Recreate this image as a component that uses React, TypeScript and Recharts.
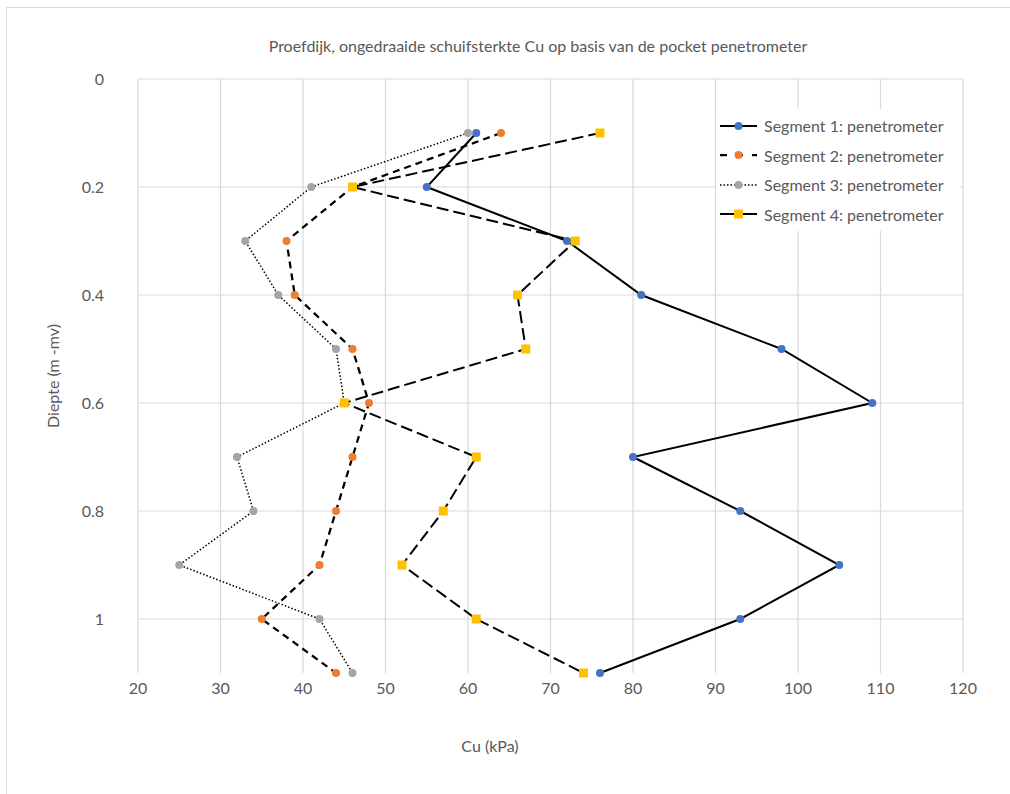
import { LineChart, Line, XAxis, YAxis, CartesianGrid } from 'recharts'

const depths = [0.1, 0.2, 0.3, 0.4, 0.5, 0.6, 0.7, 0.8, 0.9, 1.0, 1.1]
const seg1 = [61, 55, 72, 81, 98, 109, 80, 93, 105, 93, 76]
const seg2 = [64, 46, 38, 39, 46, 48, 46, 44, 42, 35, 44]
const seg3 = [60, 41, 33, 37, 44, 45, 32, 34, 25, 42, 46]
const seg4 = [76, 46, 73, 66, 67, 45, 61, 57, 52, 61, 74]

const xTicks = [20, 30, 40, 50, 60, 70, 80, 90, 100, 110, 120]
const yTicks = [0, 0.2, 0.4, 0.6, 0.8, 1]

const seriesNames = [
  'Segment 1: penetrometer',
  'Segment 2: penetrometer',
  'Segment 3: penetrometer',
  'Segment 4: penetrometer',
]

const FONT = 'Lato, "Open Sans", sans-serif'
const TXT = '#595959'
const FS = 16

const data = depths.map((d, i) => ({ d, s1: seg1[i], s2: seg2[i], s3: seg3[i], s4: seg4[i] }))

const styles = [
  { key: 's1', color: '#4472c4', dash: undefined, width: 2, square: false, sample: undefined },
  { key: 's2', color: '#ed7d31', dash: '7 5', width: 2.25, square: false, sample: '7 9' },
  { key: 's3', color: '#a5a5a5', dash: '1.5 2', width: 1.5, square: false, sample: '1.5 2' },
  { key: 's4', color: '#ffc000', dash: '12 5', width: 2, square: true, sample: undefined },
]

function Dot(props: any) {
  const { cx, cy, color, square } = props
  if (cx == null || cy == null) return null
  if (square) return <rect x={cx - 4.5} y={cy - 4.5} width={9} height={9} fill={color} />
  return <circle cx={cx} cy={cy} r={4} fill={color} />
}

function LegendBox() {
  return (
    <div style={{ background: '#fff', width: 244, padding: '2px 0', fontFamily: FONT, fontSize: FS, color: TXT }}>
      {styles.map((s, i) => (
        <div key={s.key} style={{ display: 'flex', alignItems: 'center', height: 29.5 }}>
          <svg width={46} height={12} style={{ marginRight: 2 }}>
            <line x1={4} x2={41} y1={6} y2={6} stroke="#000" strokeWidth={s.width} strokeDasharray={s.sample} />
            {s.square
              ? <rect x={18} y={1.5} width={9} height={9} fill={s.color} />
              : <circle cx={22.5} cy={6} r={4} fill={s.color} />}
          </svg>
          <span>{seriesNames[i]}</span>
        </div>
      ))}
    </div>
  )
}

export default function App() {
  return (
    <div style={{ position: 'absolute', left: 0, top: 0, width: 1010, height: 794, background: '#fff', overflow: 'hidden' }}>
      <div style={{ position: 'absolute', left: 6, top: 7, width: 1100, height: 900, border: '1.5px solid #d9d9d9' }} />
      <div style={{ position: 'absolute', left: 0, width: 1076, top: 36, textAlign: 'center', fontFamily: FONT, fontSize: FS, color: TXT }}>
        Proefdijk, ongedraaide schuifsterkte Cu op basis van de pocket penetrometer
      </div>
      <div style={{ position: 'absolute', left: 52, top: 376, transform: 'translate(-50%, -50%) rotate(-90deg)', whiteSpace: 'nowrap', fontFamily: FONT, fontSize: FS, color: TXT }}>
        Diepte (m -mv)
      </div>
      <div style={{ position: 'absolute', left: 490, top: 745, transform: 'translate(-50%, -50%)', whiteSpace: 'nowrap', fontFamily: FONT, fontSize: FS, color: TXT }}>
        Cu (kPa)
      </div>
      <div style={{ position: 'absolute', left: 0, top: 0 }}>
        <LineChart width={1010} height={794} data={data} layout="vertical" margin={{ top: 79, right: 47, bottom: 91, left: 78 }}>
          <CartesianGrid stroke="#d9d9d9" strokeWidth={1.2} horizontalValues={yTicks} verticalValues={xTicks} />
          <XAxis type="number" dataKey="s1" domain={[20, 120]} ticks={xTicks} axisLine={false} tickLine={false} tickSize={0} tickMargin={10} height={30}
            tick={{ fill: TXT, fontSize: FS, fontFamily: FONT }} />
          <YAxis type="number" dataKey="d" domain={[0, 1.1]} ticks={yTicks} axisLine={false} tickLine={false} tickSize={0} tickMargin={34} width={60}
            tick={{ fill: TXT, fontSize: FS, fontFamily: FONT }} />
          {styles.map((s, i) => (
            <Line key={s.key} dataKey={s.key} name={seriesNames[i]} type="linear" stroke="#000" strokeWidth={s.width}
              strokeDasharray={s.dash} isAnimationActive={false}
              dot={(p: any) => <Dot key={`${s.key}-${p.index}`} {...p} color={s.color} square={s.square} />} activeDot={false} />
          ))}
        </LineChart>
      </div>
      <div style={{ position: 'absolute', left: 716, top: 109 }}>
        <LegendBox />
      </div>
    </div>
  )
}
